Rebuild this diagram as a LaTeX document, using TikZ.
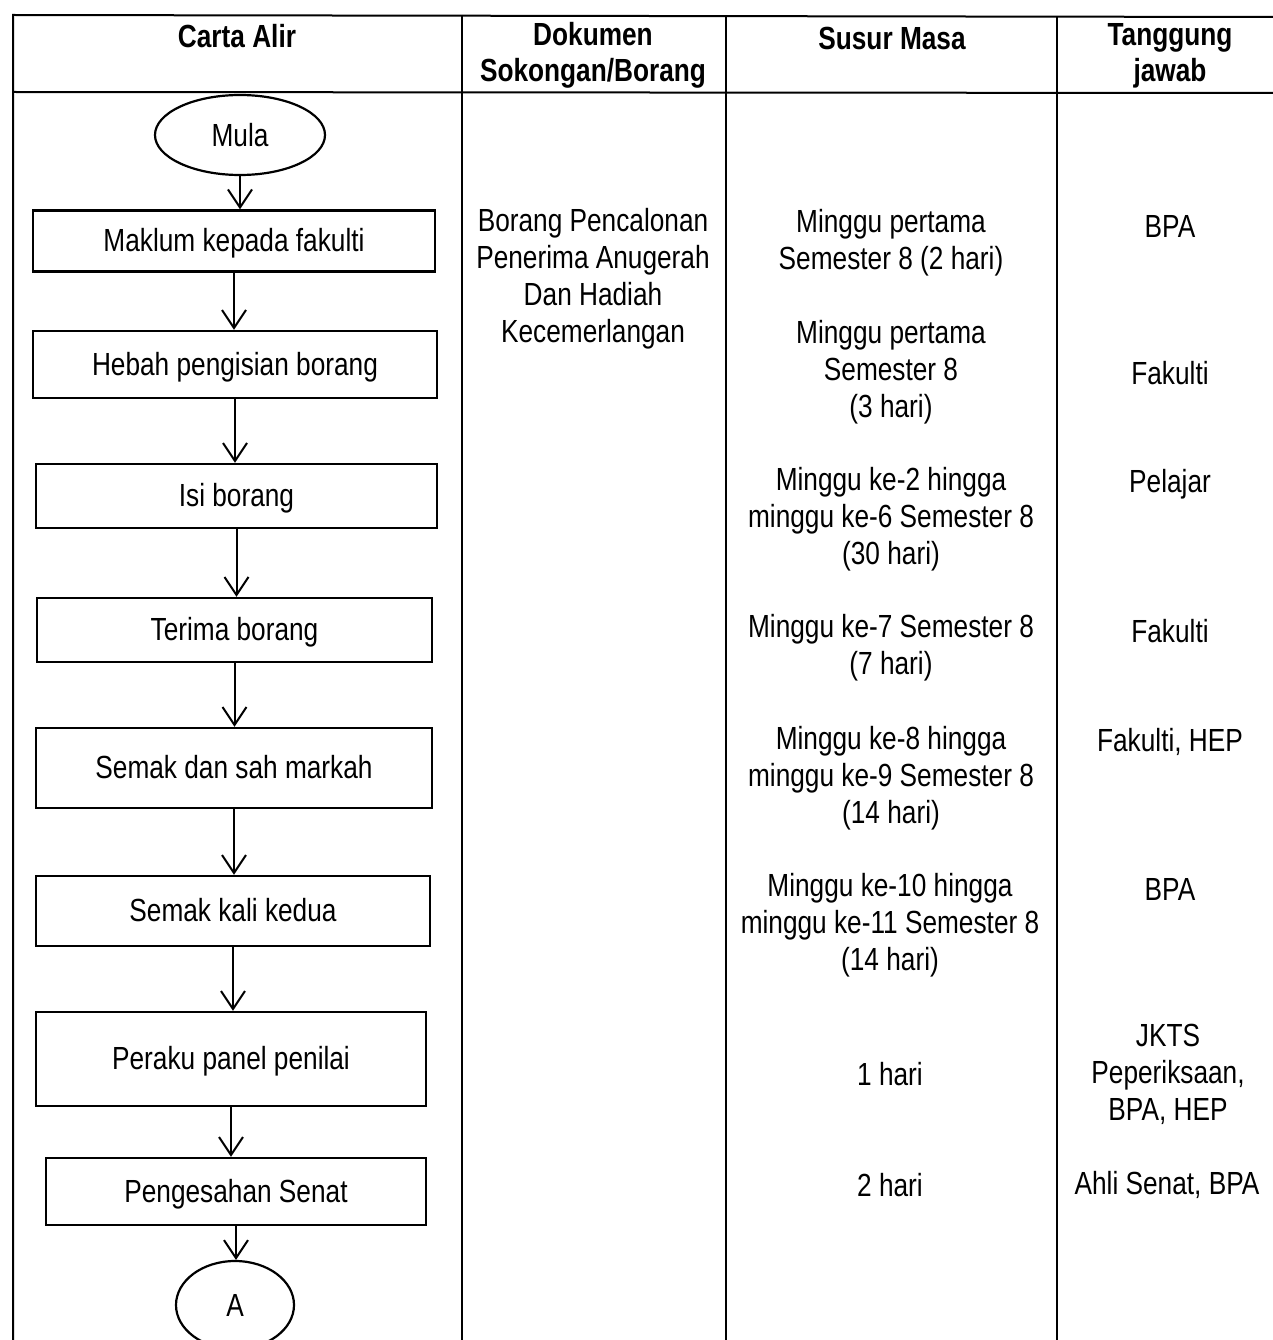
\documentclass[tikz,border=0pt]{standalone}
\usepackage{fontspec}
\setmainfont{Liberation Sans}[FakeStretch=0.82]
\usetikzlibrary{arrows.meta,shapes.geometric}
\begin{document}
\begin{tikzpicture}[x=1pt,y=-1pt,
  txt/.style={font=\fontsize{32}{37}\selectfont,align=center,inner sep=0pt},
  hdr/.style={font=\fontsize{32}{36}\selectfont\bfseries,align=center,inner sep=0pt},
  stepbox/.style={draw,line width=2.4pt,rectangle,inner sep=0pt,text depth=2pt,font=\fontsize{32}{37}\selectfont},
  term/.style={draw,line width=2.2pt,ellipse,inner sep=0pt,font=\fontsize{32}{37}\selectfont},
  arr/.style={line width=2pt,-{Straight Barb[length=18pt,width=24pt,line width=2pt]}},
  grid/.style={line width=2pt}]
\useasboundingbox (0,0) rectangle (1272,1340);
% table
\draw[grid] (13,1340) -- (13,15) -- (1280,17);
\draw[grid] (13,92) -- (1280,93);
\draw[grid] (462,15) -- (462,1340);
\draw[grid] (726,16) -- (726,1340);
\draw[grid] (1057,17) -- (1057,1340);
% headers
\node[hdr] (h1) at (237,36) {Carta Alir};
\node[hdr] (h2) at (593,55) {Dokumen\\Sokongan/Borang};
\node[hdr] (h3) at (892,38) {Susur Masa};
\node[hdr] (h4) at (1170,56) {Tanggung\\jawab};
% flowchart
\node[term,minimum width=170pt,minimum height=80pt] (mula) at (240,135) {Mula};
\node[stepbox,minimum width=402pt,minimum height=61pt] (b1) at (234,241) {Maklum kepada fakulti};
\node[stepbox,minimum width=404pt,minimum height=67pt] (b2) at (235,364.5) {Hebah pengisian borang};
\node[stepbox,minimum width=401pt,minimum height=64pt] (b3) at (236.5,496) {Isi borang};
\node[stepbox,minimum width=395pt,minimum height=64pt] (b4) at (234.5,630) {Terima borang};
\node[stepbox,minimum width=396pt,minimum height=80pt] (b5) at (234,768) {Semak dan sah markah};
\node[stepbox,minimum width=394pt,minimum height=70pt] (b6) at (233,911) {Semak kali kedua};
\node[stepbox,minimum width=390pt,minimum height=94pt] (b7) at (231,1059) {Peraku panel penilai};
\node[stepbox,minimum width=380pt,minimum height=67pt] (b8) at (236,1191.5) {Pengesahan Senat};
\node[term,minimum width=118pt,minimum height=88pt] (a) at (235,1305) {A};
\draw[arr] (mula.south) -- (mula.south |- b1.north);
\draw[arr] (b1.south) -- (b1.south |- b2.north);
\draw[arr] (b2.south) -- (b2.south |- b3.north);
\draw[arr] (b3.south) -- (b3.south |- b4.north);
\draw[arr] (b4.south) -- (b4.south |- b5.north);
\draw[arr] (b5.south) -- (b5.south |- b6.north);
\draw[arr] (b6.south) -- (b6.south |- b7.north);
\draw[arr] (b7.south) -- (b7.south |- b8.north);
\draw[arr] (b8.south) -- (b8.south |- a.north);
% column 2
\node[txt] (d1) at (593,279) {Borang Pencalonan\\Penerima Anugerah\\Dan Hadiah\\Kecemerlangan};
% column 3
\node[txt] (s1) at (891,243) {Minggu pertama\\Semester 8 (2 hari)};
\node[txt] (s2) at (891,372) {Minggu pertama\\Semester 8\\(3 hari)};
\node[txt] (s3) at (891,519) {Minggu ke-2 hingga\\minggu ke-6 Semester 8\\(30 hari)};
\node[txt] (s4) at (891,648) {Minggu ke-7 Semester 8\\(7 hari)};
\node[txt] (s5) at (891,778) {Minggu ke-8 hingga\\minggu ke-9 Semester 8\\(14 hari)};
\node[txt] (s6) at (890,925) {Minggu ke-10 hingga\\minggu ke-11 Semester 8\\(14 hari)};
\node[txt] (s7) at (890,1074) {1 hari};
\node[txt] (s8) at (890,1185) {2 hari};
% column 4
\node[txt] (t1) at (1170,226) {BPA};
\node[txt] (t2) at (1170,373) {Fakulti};
\node[txt] (t3) at (1170,484) {Pelajar};
\node[txt] (t4) at (1170,631) {Fakulti};
\node[txt] (t5) at (1170,742) {Fakulti, HEP};
\node[txt] (t6) at (1170,889) {BPA};
\node[txt] (t7) at (1168,1074) {JKTS\\Peperiksaan,\\BPA, HEP};
\node[txt] (t8) at (1167,1185) {Ahli Senat, BPA};
\end{tikzpicture}
\end{document}
